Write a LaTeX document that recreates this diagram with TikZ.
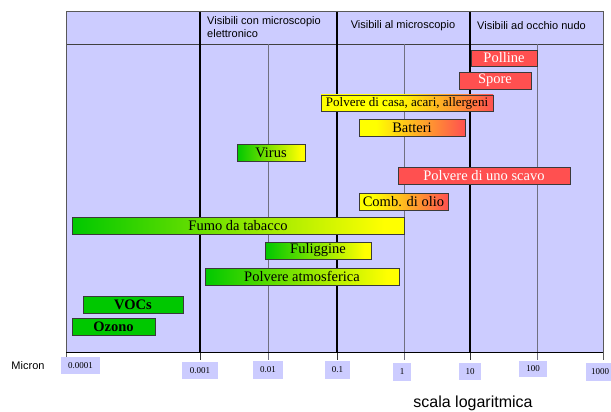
\documentclass[tikz,border=0pt]{standalone}
\usepackage{fontspec}
\setmainfont{Liberation Serif}
\newfontfamily\arialf{Liberation Sans}
\definecolor{cG}{HTML}{00C800}
\definecolor{cY}{HTML}{FFFF00}
\definecolor{cR}{HTML}{FF5050}
\definecolor{lav}{HTML}{CCCCFF}
\definecolor{bord}{HTML}{3A3A3A}
\definecolor{thing}{HTML}{707080}
\pgfdeclarehorizontalshading{shGY}{100bp}{color(0bp)=(cG); color(25bp)=(cG); color(72bp)=(cY); color(100bp)=(cY)}
\pgfdeclarehorizontalshading{shYR}{100bp}{color(0bp)=(cY); color(25bp)=(cY); color(33bp)=(cY); color(75bp)=(cR); color(100bp)=(cR)}
\pgfdeclarehorizontalshading{shYYR}{100bp}{color(0bp)=(cY); color(25bp)=(cY); color(47bp)=(cY); color(75bp)=(cR); color(100bp)=(cR)}
\tikzset{
  bar/.style={draw=bord, line width=0.7pt, inner sep=0pt, font=\fontsize{14.5}{14.5}\selectfont},
  redbar/.style={bar, fill=cR, text=white},
  gybar/.style={bar, shading=shGY},
  yrbar/.style={bar, shading=shYR},
  yyrbar/.style={bar, shading=shYYR},
  grbar/.style={bar, fill=cG, font=\fontsize{14.5}{14.5}\selectfont\bfseries},
  hdr/.style={inner sep=0pt, font=\arialf\fontsize{11}{13}\selectfont},
  tlab/.style={fill=lav, inner sep=0pt, font=\fontsize{9}{9}\selectfont},
  thickl/.style={black, line width=1.6pt},
  thinl/.style={thing, line width=0.9pt},
  borderl/.style={draw=black!65, line width=0.9pt},
}
\begin{document}
\begin{tikzpicture}[x=1pt,y=-1pt]
\useasboundingbox (0,0) rectangle (611,412);
\fill[white] (0,0) rectangle (611,412);
% background
\fill[lav] (66,11) rectangle (603,352);
\draw[black!75, line width=0.9pt] (66,44) -- (603,44);
% thin decade lines
\foreach \x in {268,404,537} { \draw[thinl] (\x,44) -- (\x,360); }
% thick lines
\foreach \x in {200,337,470} { \draw[thickl] (\x,11) -- (\x,352); \draw[black!80, line width=0.9pt] (\x,352) -- (\x,360); }
% border
\draw[borderl] (66,360) -- (66,11) -- (603,11) -- (603,360);
\draw[black, line width=1pt] (66,352) -- (603,352);
% header texts
\node[hdr, anchor=west, align=left] (h1) at (207,27.5) {Visibili con microscopio\\elettronico};
\node[hdr] (h2) at (403,26) {Visibili al microscopio};
\node[hdr] (h3) at (531.5,26) {Visibili ad occhio nudo};
% bars
\node[redbar, minimum width=66, minimum height=16] (polline) at (504,58) {Polline};
\node[redbar, minimum width=72, minimum height=17] (spore) at (495,80.5) {Spore};
\node[yyrbar, minimum width=172, minimum height=16, font=\fontsize{13}{13}\selectfont] (casa) at (407,103) {Polvere di casa, acari, allergeni};
\node[yrbar, minimum width=106, minimum height=17] (batteri) at (412,128) {Batteri};
\node[gybar, minimum width=68, minimum height=17] (virus) at (271,152.5) {Virus};
\node[redbar, minimum width=172, minimum height=17] (scavo) at (484,175.5) {Polvere di uno scavo};
\node[yrbar, minimum width=89, minimum height=17] (olio) at (403.5,201.5) {Comb. di olio};
\node[gybar, minimum width=332, minimum height=17] (fumo) at (238,225.5) {Fumo da tabacco};
\node[gybar, minimum width=106, minimum height=17] (fuliggine) at (318,250.5) {Fuliggine};
\node[gybar, minimum width=194, minimum height=17] (atmo) at (302,276.5) {Polvere atmosferica};
\node[grbar, minimum width=100, minimum height=17] (vocs) at (133,304.5) {VOCs};
\node[grbar, minimum width=83, minimum height=17] (ozono) at (113.5,326.5) {Ozono};
% axis labels
\node[hdr] (micron) at (28,366) {Micron};
\node[tlab, minimum width=39, minimum height=17] (t1) at (80.5,365.5) {0.0001};
\node[tlab, minimum width=36, minimum height=17] (t2) at (200,370.5) {0.001};
\node[tlab, minimum width=30, minimum height=18] (t3) at (268,370) {0.01};
\node[tlab, minimum width=25, minimum height=18] (t4) at (337.5,370) {0.1};
\node[tlab, minimum width=18, minimum height=18] (t5) at (402,372) {1};
\node[tlab, minimum width=22, minimum height=17] (t6) at (470,371.5) {10};
\node[tlab, minimum width=28, minimum height=16] (t7) at (533,369) {100};
\node[tlab, minimum width=28, minimum height=18] (t8) at (600,372) {1000};
\node[inner sep=0pt, font=\arialf\fontsize{16}{16}\selectfont] (scala) at (473,403) {scala logaritmica};
\end{tikzpicture}
\end{document}
